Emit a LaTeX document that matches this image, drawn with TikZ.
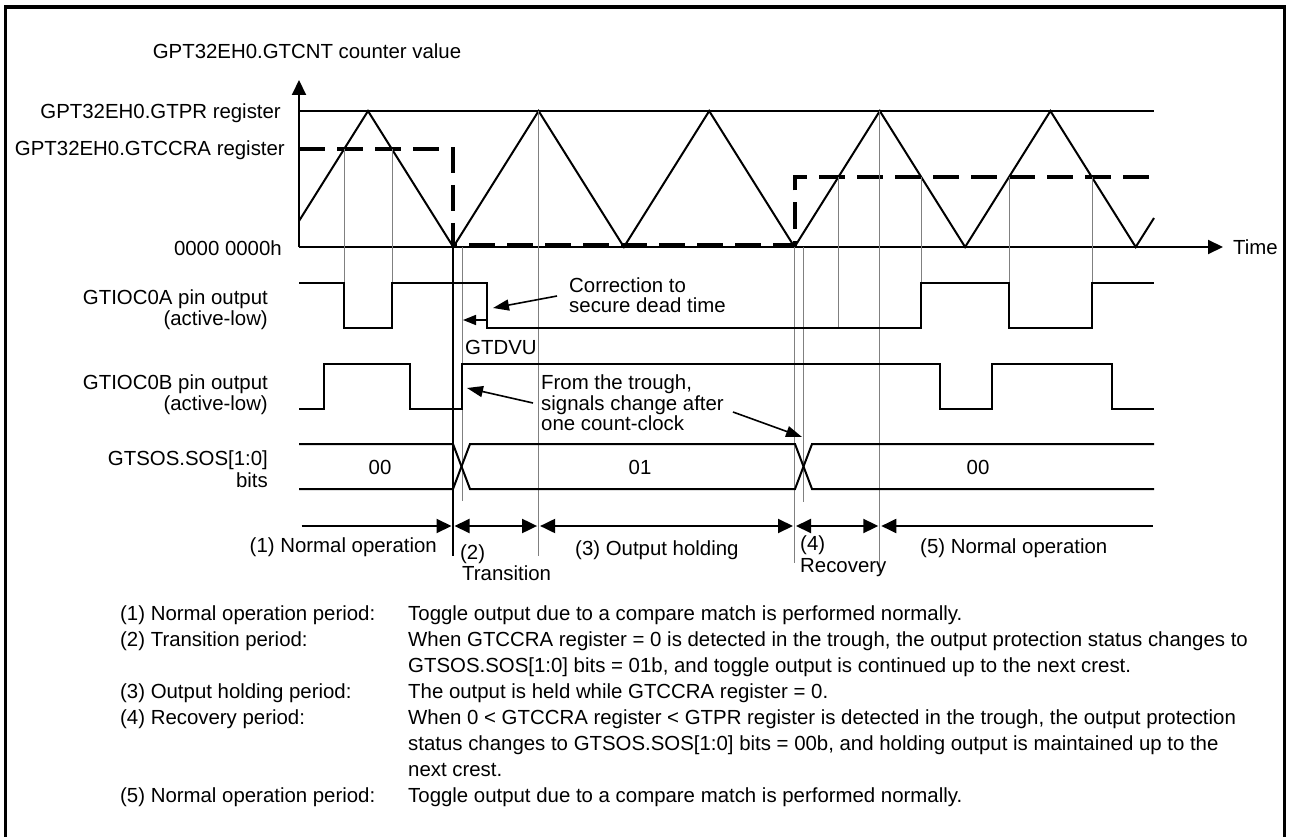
\documentclass[tikz,border=0pt]{standalone}
\usepackage{fontspec}
\setmainfont{Liberation Sans}
\usetikzlibrary{arrows.meta, positioning}
\tikzset{
  lbl/.style={font=\fontsize{20.4}{24}\selectfont, inner sep=0pt},
  lblr/.style={lbl, anchor=base east},
  lbll/.style={lbl, anchor=base west},
  lblc/.style={lbl, anchor=base}
}
\tikzset{
  sig/.style={line width=2pt, line join=miter},
  guide/.style={line width=1pt, draw=gray},
  cmpline/.style={line width=4pt, dash pattern=on 26pt off 12pt},
  axisline/.style={line width=2pt, ->},
  spanline/.style={line width=2pt, shorten >=1.5pt, shorten <=1.5pt},
  notearrow/.style={line width=1.6pt, -{Triangle[length=16pt,width=11pt]}},
  framebox/.style={line width=3.5pt}
}

\begin{document}
\begin{tikzpicture}[x=1pt, y=-1pt, >={Triangle[length=15pt,width=14pt]}]
  \useasboundingbox (0,0) rectangle (1290,837);
  \draw[framebox] (5.5,850) -- (5.5,7) -- (1284.5,7) -- (1284.5,850);
  % counter
  \node[lblc] (cnt) at (307,59) {GPT32EH0.GTCNT counter value};
  \node[lblr] (prd) at (281,119) {GPT32EH0.GTPR register};
  \node[lblr] (cmp) at (285,156) {GPT32EH0.GTCCRA register};
  \node[lblr] (zero) at (282,255) {0000 0000h};
  \node[lbll] (time) at (1233,254) {Time};
  \draw[axisline] (299,247) -- (299,80);
  \draw[axisline] (299,247) -- (1223,247);
  \draw[sig] (299,111) -- (1154,111);
  \draw[sig] (299,221) \foreach \k in {0,...,4} {-- ({368+170.6*\k},111) -- ({453.3+170.6*\k},247)} -- (1154,218);
  \draw[cmpline] (299,149) -- (453,149) -- (453,245) -- (794.5,245) -- (794.5,177) -- (1154,177);
  % guides
  \foreach \x/\ya/\yb in {344/149/283, 392/149/283, 538.6/111/556, 462/247/501, 794.5/247/563, 803/247/502, 838.4/177/328, 879.8/111/573, 921/177/283, 1009/177/283, 1092/177/283}
    \draw[guide] (\x,\ya) -- (\x,\yb);
  \draw[line width=2.5pt] (453,247) -- (453,556);
  % GTIOC0A
  \node[lblr] (pina1) at (268,304) {GTIOC0A pin output};
  \node[lblr] (pina2) at (268,325) {(active-low)};
  \draw[sig] (299,283) -| (344,328) -| (392,283) -| (487,328) -| (921,283) -| (1009,328) -| (1092,283) -- (1154,283);
  \coordinate (dvtail) at (487,320);
  \coordinate (dvtip) at (463,320);
  \draw[line width=1.6pt, -{Triangle[length=13pt,width=10pt]}] (dvtail) -- (dvtip);
  \node[lbll] (dvu) at (465,354) {GTDVU};
  \node[lbll] (corr1) at (569,292) {Correction to};
  \node[lbll] (corr2) at (569,312) {secure dead time};
  \coordinate (corrtip) at (493,308);
  \draw[notearrow] ([shift={(-12,4)}]corr1.base west) -- (corrtip);
  % GTIOC0B
  \node[lblr] (pinb1) at (268,389) {GTIOC0B pin output};
  \node[lblr] (pinb2) at (268,410) {(active-low)};
  \draw[sig] (299,409) -| (324,364) -| (410,409) -| (462,364) -| (940,409) -| (992,364) -| (1112,409) -- (1154,409);
  \node[lbll] (trough1) at (541,389) {From the trough,};
  \node[lbll] (trough2) at (541,410) {signals change after};
  \node[lbll] (trough3) at (541,430) {one count-clock};
  \coordinate (troughtip1) at (467,388);
  \coordinate (troughtip2) at (802,437);
  \draw[notearrow] ([shift={(-8,-7)}]trough2.base west) -- (troughtip1);
  \draw[notearrow] ([shift={(9,2)}]trough2.base east) -- (troughtip2);
  % GTSOS
  \node[lblr] (sos1) at (268,465) {GTSOS.SOS[1:0]};
  \node[lblr] (sos2) at (268,487) {bits};
  \draw[sig] (299,444) -- (453,444) -- (470,489) -- (795,489) -- (812,444) -- (1154,444);
  \draw[sig] (299,489) -- (453,489) -- (470,444) -- (795,444) -- (812,489) -- (1154,489);
  \foreach \x/\v in {380/00, 640/01, 978/00}
    \node[lblc] (bits\x) at (\x,474) {\v};
  % periods
  \coordinate (p0) at (300,526);
  \coordinate (p1) at (453,526);
  \coordinate (p2) at (538.6,526);
  \coordinate (p3) at (794.5,526);
  \coordinate (p4) at (879.8,526);
  \coordinate (p5) at (1154,526);
  \draw[spanline, ->] (p0) -- (p1);
  \draw[spanline, <->] (p1) -- (p2);
  \draw[spanline, <->] (p2) -- (p3);
  \draw[spanline, <->] (p3) -- (p4);
  \draw[spanline, <-] (p4) -- (p5);
  \node[lblr] (per1) at (437,552) {(1) Normal operation};
  \node[lbll] (per2a) at (460,559) {(2)};
  \node[lbll] (per2b) at (462,580) {Transition};
  \node[lbll] (per3) at (575,555) {(3) Output holding};
  \node[lbll] (per4a) at (800,550) {(4)};
  \node[lbll] (per4b) at (800,572) {Recovery};
  \node[lbll] (per5) at (920,553) {(5) Normal operation};
  % notes
  \foreach \i/\t in {0/{(1) Normal operation period:}, 1/{(2) Transition period:}, 3/{(3) Output holding period:}, 4/{(4) Recovery period:}, 7/{(5) Normal operation period:}}
    \node[lbll] (term\i) at (120,{620+26*\i}) {\t};
  \foreach \i/\t in {0/{Toggle output due to a compare match is performed normally.},
      1/{When GTCCRA register = 0 is detected in the trough, the output protection status changes to},
      2/{GTSOS.SOS[1:0] bits = 01b, and toggle output is continued up to the next crest.},
      3/{The output is held while GTCCRA register = 0.},
      4/{When 0 < GTCCRA register < GTPR register is detected in the trough, the output protection},
      5/{status changes to GTSOS.SOS[1:0] bits = 00b, and holding output is maintained up to the},
      6/{next crest.},
      7/{Toggle output due to a compare match is performed normally.}}
    \node[lbll] (desc\i) at (408,{620+26*\i}) {\t};
\end{tikzpicture}
\end{document}
